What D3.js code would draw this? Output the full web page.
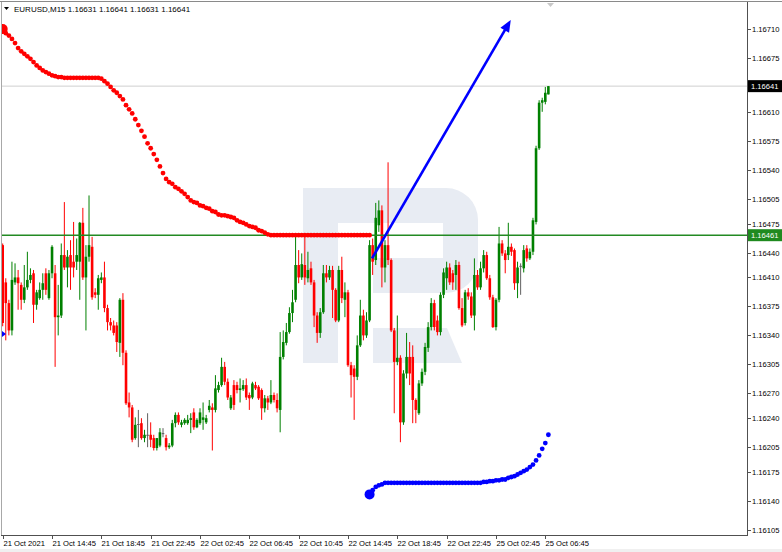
<!DOCTYPE html>
<html><head><meta charset="utf-8">
<script src="https://cdn.jsdelivr.net/npm/d3@7"></script>
<style>body{margin:0;background:#fff}svg{display:block}text{font-family:"Liberation Sans",Arial,sans-serif}</style>
</head><body><svg id="c" width="782" height="552"></svg>
<script>
// ---- data (EURUSD M15, bar index 0 = 21 Oct 2021 10:45) ----
const P = v => +(1.16 + v/100000).toFixed(5);
const open = [449,404,379,346,404,410,401,383,398,407,415,377,385,395,415,385,415,415,362,364,
437,422,437,429,429,429,476,410,435,447,392,389,407,410,373,356,352,352,331,383,
319,259,253,216,233,234,216,220,220,216,204,207,222,216,205,207,234,244,232,234,
234,238,247,229,234,238,235,250,253,250,274,280,302,284,252,280,280,274,275,280,
268,265,280,278,274,252,264,259,268,262,250,314,331,344,367,383,425,410,425,409,
421,404,364,343,368,415,410,419,395,358,419,383,392,304,300,290,328,364,340,358,
449,431,473,491,422,449,431,346,308,313,235,294,314,314,262,246,282,296,325,350,
379,358,344,389,409,422,415,413,425,373,355,392,387,364,413,398,421,437,409,386,
350,383,451,439,437,447,443,403,424,421,445,433,441,477,566,621,622,631].map(P);
const high = [451,409,383,429,427,419,404,425,441,421,419,395,404,415,421,419,449,425,401,451,
501,443,455,477,457,477,494,449,509,459,397,413,416,429,377,361,358,356,385,391,
322,271,256,241,250,240,226,246,235,220,216,228,228,220,210,238,247,247,238,240,
244,246,252,240,252,259,244,262,258,292,284,313,308,288,268,286,284,288,286,288,
271,284,284,280,276,268,267,286,271,270,344,346,355,374,395,459,443,439,459,441,
429,407,368,373,425,425,424,424,397,424,435,404,395,308,304,340,383,371,368,455,
457,500,503,497,455,549,433,349,364,316,298,343,332,328,264,286,300,331,356,385,
383,364,392,421,429,427,419,431,429,385,395,397,392,433,419,429,443,441,413,389,
385,471,455,443,476,451,445,429,427,449,449,445,482,569,624,627,640,641].map(P);
const low = [351,334,340,340,401,371,371,379,395,403,355,371,383,383,389,383,409,302,340,361,
419,398,395,410,419,383,407,346,429,383,385,371,403,368,346,346,340,320,314,304,
256,241,211,214,205,214,211,205,205,201,201,205,217,201,203,205,229,232,229,232,
232,222,226,228,232,226,233,247,201,247,271,278,280,262,250,250,270,259,273,262,
250,263,274,262,238,247,250,257,259,247,223,311,328,342,356,380,403,407,401,404,
401,350,331,337,366,404,407,361,356,356,379,362,302,265,238,286,326,334,337,356,
413,425,465,398,404,425,344,246,304,211,232,288,280,234,234,244,279,292,320,346,
346,340,340,385,395,401,395,395,371,350,352,383,361,346,395,395,416,407,383,349,
346,380,436,415,431,436,395,385,389,416,429,431,437,474,564,610,619,631].map(P);
const close = [355,379,346,407,410,403,383,398,407,413,377,392,395,403,395,415,447,362,364,437,
422,435,422,422,437,476,410,435,449,386,389,409,410,373,356,352,343,332,383,319,
258,253,214,232,233,216,220,220,214,204,216,223,222,205,207,234,244,235,235,238,
238,240,229,238,247,241,240,255,250,276,280,302,284,265,265,256,274,276,280,265,
264,282,276,264,252,264,259,268,262,252,314,332,344,367,380,425,410,426,410,419,
404,364,343,368,415,410,419,395,358,419,385,392,304,292,290,328,364,340,358,449,
429,482,491,422,449,431,346,308,313,235,294,314,294,262,250,282,296,326,350,379,
350,344,389,416,422,404,404,425,373,352,392,387,364,413,398,421,437,409,386,350,
383,451,439,431,447,441,403,422,424,443,433,441,479,566,621,624,633,641].map(P);

// red dotted indicator: bars 0..119
const redStart = 0;
const redDots = [710,705,702,698,693,687,683,680,677,674,670,666,663,660,658,656,654,653,652,652,
651,651,651,651,651,651,651,651,651,651,651,651,650,647,644,640,636,633,629,625,
618,613,608,601,594,587,580,572,566,559,552,544,536,529,525,523,519,517,514,511,
507,503,501,500,497,496,494,493,490,489,486,485,485,484,483,482,479,477,476,474,
472,471,470,467,466,464,462,461,461,461,461,461,461,461,461,461,461,461,461,461,
461,461,461,461,461,461,461,461,461,461,461,461,461,461,461,461,461,461,461,461].map(P);
// blue dotted indicator: bars 119..177
const blueStart = 119;
const blueDots = [148,153,157,159,160,162,162,162,162,162,162,162,162,162,162,162,162,162,162,162,
162,162,162,162,162,162,162,162,162,162,162,162,162,162,162,162,162,163,163,164,
164,165,165,166,166,168,169,170,172,174,176,178,181,184,189,195,203,210,220].map(P);

const xTickIdx = [0,16,32,48,64,80,96,112,128,144,160,176];
const xTickLabels = ["21 Oct 2021","21 Oct 14:45","21 Oct 18:45","21 Oct 22:45","22 Oct 02:45","22 Oct 06:45",
  "22 Oct 10:45","22 Oct 14:45","22 Oct 18:45","22 Oct 22:45","25 Oct 02:45","25 Oct 06:45"];
const yTickLabels = ["1.16710","1.16675","1.16645","1.16610","1.16575","1.16540","1.16505","1.16475","1.16440",
  "1.16410","1.16375","1.16340","1.16305","1.16270","1.16240","1.16205","1.16175","1.16140","1.16105"];
const greenLevel = 1.16461;
const lastPrice = 1.16641;
const arrowFrom = [119.8, 1.16433];
const arrowTo = [164.8, 1.16721];
const titleText = "EURUSD,M15  1.16631 1.16641 1.16631 1.16641";

// ---- drawing ----
const svg = d3.select('#c');
const L = 2, R = 747, T = 2, B = 535;
const x = d3.scaleLinear().domain([0, 176]).range([2.7, 545.3]);
const y = d3.scaleLinear().domain([1.16105, 1.16710]).range([530, 29]);

svg.append('rect').attr('x',0).attr('y',549).attr('width',782).attr('height',3).attr('fill','#f0f0f0');
svg.append('defs').append('clipPath').attr('id','plot').append('rect')
  .attr('x',L).attr('y',T).attr('width',R-L).attr('height',B-T);
const g = svg.append('g').attr('clip-path','url(#plot)');

// watermark logo
g.append('path').attr('fill','#e8ecf3').attr('fill-rule','evenodd')
  .attr('d','M303,188 H446 A32,32 0 0 1 478,220 V261 A32,32 0 0 1 446,293 H373 V258 H443 V223 H338 V363 H303 Z M373,328 H447 L462,363 H373 Z');

// last price line
g.append('line').attr('x1',L).attr('x2',R).attr('y1',y(lastPrice)).attr('y2',y(lastPrice))
  .attr('stroke','#cfcfcf').attr('stroke-width',1);

const candles = open.map((o,i)=>({i,o,c:close[i],h:Math.max(high[i],o,close[i]),l:Math.min(low[i],o,close[i])}));
const col = d => d.c > d.o ? '#008000' : (d.c < d.o ? '#ff0000' : '#606060');
g.selectAll('line.wick').data(candles).join('line').attr('class','wick')
  .attr('x1',d=>x(d.i)).attr('x2',d=>x(d.i)).attr('y1',d=>y(d.h)).attr('y2',d=>y(d.l))
  .attr('stroke',col).attr('stroke-width',1);
g.selectAll('rect.body').data(candles).join('rect').attr('class','body')
  .attr('x',d=>x(d.i)-1.3).attr('width',2.6)
  .attr('y',d=>y(Math.max(d.o,d.c)))
  .attr('height',d=>Math.max(1,Math.abs(y(d.o)-y(d.c))))
  .attr('fill',col);

// green horizontal level
g.append('line').attr('x1',L).attr('x2',R).attr('y1',y(greenLevel)).attr('y2',y(greenLevel))
  .attr('stroke','#238a23').attr('stroke-width',1.6);

// red dots
g.selectAll('circle.red').data(redDots).join('circle').attr('class','red')
  .attr('cx',(d,k)=>x(redStart+k)).attr('cy',d=>y(d)).attr('r',(d,k)=>k===0?5:2.4).attr('fill','#ff0000');
// blue dots
g.selectAll('circle.blue').data(blueDots).join('circle').attr('class','blue')
  .attr('cx',(d,k)=>x(blueStart+k)).attr('cy',d=>y(d)).attr('r',(d,k)=>k===0?5:2.4).attr('fill','#0000ff');

// arrow
const ax1=x(arrowFrom[0]), ay1=y(arrowFrom[1]), ax2=x(arrowTo[0]), ay2=y(arrowTo[1]);
const dx=ax2-ax1, dy=ay2-ay1, len=Math.hypot(dx,dy), ux=dx/len, uy=dy/len;
const hl=12, hw=5;
const bx=ax2-ux*hl, by=ay2-uy*hl;
g.append('line').attr('x1',ax1).attr('y1',ay1).attr('x2',bx+ux*2).attr('y2',by+uy*2)
  .attr('stroke','#0000ff').attr('stroke-width',2.6);
g.append('polygon').attr('fill','#0000ff')
  .attr('points',`${ax2},${ay2} ${bx-uy*hw},${by+ux*hw} ${bx+uy*hw},${by-ux*hw}`);

// left blue marker
svg.append('polygon').attr('points','2,331 6,334 2,337').attr('fill','#0000ff');

// frame
svg.append('line').attr('x1',0).attr('x2',782).attr('y1',1.5).attr('y2',1.5).attr('stroke','#8a8a8a');
svg.append('line').attr('x1',1.5).attr('x2',1.5).attr('y1',2).attr('y2',B).attr('stroke','#a8a8a8').attr('stroke-width',1);
svg.append('line').attr('x1',R+0.5).attr('x2',R+0.5).attr('y1',2).attr('y2',B+0.5).attr('stroke','#505050');
svg.append('line').attr('x1',1).attr('x2',R+1).attr('y1',B+0.5).attr('y2',B+0.5).attr('stroke','#505050');
svg.append('polygon').attr('points','547,3 554,3 550.5,7').attr('fill','#c8c8c8');

// title
svg.append('polygon').attr('points','4,7 9,7 6.5,10').attr('fill','#000');
svg.append('text').attr('x',14).attr('y',11.5).attr('font-size',8).attr('fill','#000').text(titleText);

// price axis
const ya = svg.append('g');
yTickLabels.forEach(t=>{
  const yy = Math.round(y(+t))+0.5;
  ya.append('line').attr('x1',R+1).attr('x2',R+4).attr('y1',yy).attr('y2',yy).attr('stroke','#505050');
  ya.append('text').attr('x',752).attr('y',yy).attr('dy','0.35em').attr('font-size',7.6).attr('fill','#000').text(t);
});
function priceBox(p, bg){
  const yy = y(p);
  svg.append('rect').attr('x',R+1).attr('y',yy-6).attr('width',782-R-1).attr('height',12).attr('fill',bg);
  svg.append('text').attr('x',751).attr('y',yy).attr('dy','0.35em').attr('font-size',7.6).attr('fill','#fff').text(p.toFixed(5));
}
priceBox(lastPrice,'#000000');
priceBox(greenLevel,'#1f8a1f');

// time axis
xTickIdx.forEach((idx,k)=>{
  const xx = Math.round(x(idx))+0.5;
  svg.append('line').attr('x1',xx).attr('x2',xx).attr('y1',B).attr('y2',B+4).attr('stroke','#505050');
  svg.append('text').attr('x',xx).attr('y',545.5).attr('font-size',7.6).attr('fill','#000').text(xTickLabels[k]);
});
</script></body></html>
